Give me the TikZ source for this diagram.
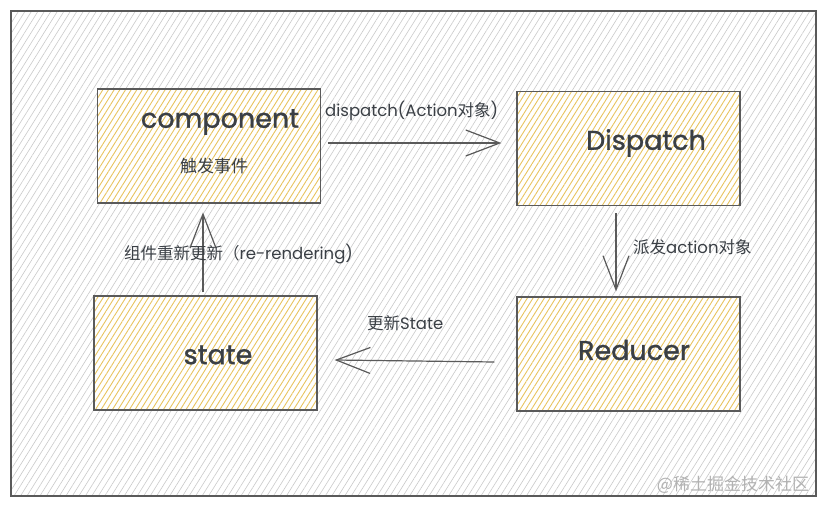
\documentclass[tikz,border=0pt]{standalone}
\usepackage{fontspec}
\setmainfont{Poppins}
\newfontfamily\cjk{Noto Sans CJK SC}
\newfontfamily\titlefont[FakeBold=1.2]{Poppins}
\usetikzlibrary{patterns.meta,arrows.meta}
\definecolor{ink}{HTML}{3A3F45}
\definecolor{edge}{HTML}{5A5A5A}
\definecolor{hatchgray}{HTML}{CACACA}
\definecolor{hatchyel}{HTML}{E8C460}
\tikzset{
  frame/.style={draw=edge,line width=1.4pt,preaction={fill=white},
    pattern={Lines[angle=58,distance=5.5pt,line width=0.6pt]},pattern color=hatchgray},
  ybox/.style={draw=edge,line width=1.2pt,preaction={fill=white},
    pattern={Lines[angle=58,distance=4.8pt,line width=0.9pt]},pattern color=hatchyel,
    minimum width=223pt,minimum height=114pt,inner sep=0pt},
  title/.style={text=ink,font=\titlefont\fontsize{27}{30}\selectfont,inner sep=0pt},
  lab/.style={text=ink,font=\fontsize{16.5}{20}\selectfont,inner sep=0pt},
  arr/.style={draw=edge,line width=1.2pt,-{Straight Barb[length=34pt,width=26pt,line width=1.2pt]}},
}
\begin{document}
\begin{tikzpicture}[x=1pt,y=-1pt]
\useasboundingbox (0,0) rectangle (825,508);
\path[frame] (11,11) rectangle (816,496);
\node[ybox] (comp) at (209,146) {};
\node[ybox] (disp) at (628.5,148.5) {};
\node[ybox] (red) at (628.5,354) {};
\node[ybox] (st) at (205.5,353) {};
\node[title] (compt) at (220,122) {component};
\node[lab,font=\cjk\fontsize{17}{20}\selectfont] (compsub) at (214,166) {触发事件};
\node[title] (dispt) at (646,143) {Dispatch};
\node[title] (redt) at (634,350) {Reducer};
\node[title] (stt) at (218,355) {state};
\draw[arr] ([xshift=7pt,yshift=3pt]comp.east) -- ([xshift=-15pt,yshift=5.5pt]disp.west);
\draw[arr] ([xshift=-12.5pt,yshift=-7pt]disp.south) -- ([xshift=-12.5pt,yshift=5pt]red.north);
\draw[arr] ([xshift=-22pt,yshift=-8pt]red.west) -- ([xshift=17pt,yshift=-7pt]st.east);
\draw[arr] ([xshift=-2.5pt,yshift=3pt]st.north) -- ([xshift=-6pt,yshift=-9pt]comp.south);
\node[lab,anchor=west] (l1) at (325,111) {dispatch(Action{\cjk 对象})};
\node[lab,anchor=west] (l2) at (633,247) {{\cjk 派发}action{\cjk 对象}};
\node[lab,anchor=west] (l3) at (367,323) {{\cjk 更新}State};
\node[lab,anchor=west] (l4) at (124,254) {{\cjk 组件重新更新（}re-rendering)};
\node[text=black!30,font=\cjk\fontsize{17}{20}\selectfont,inner sep=0pt] (wm) at (733,485) {@稀土掘金技术社区};
\end{tikzpicture}
\end{document}
